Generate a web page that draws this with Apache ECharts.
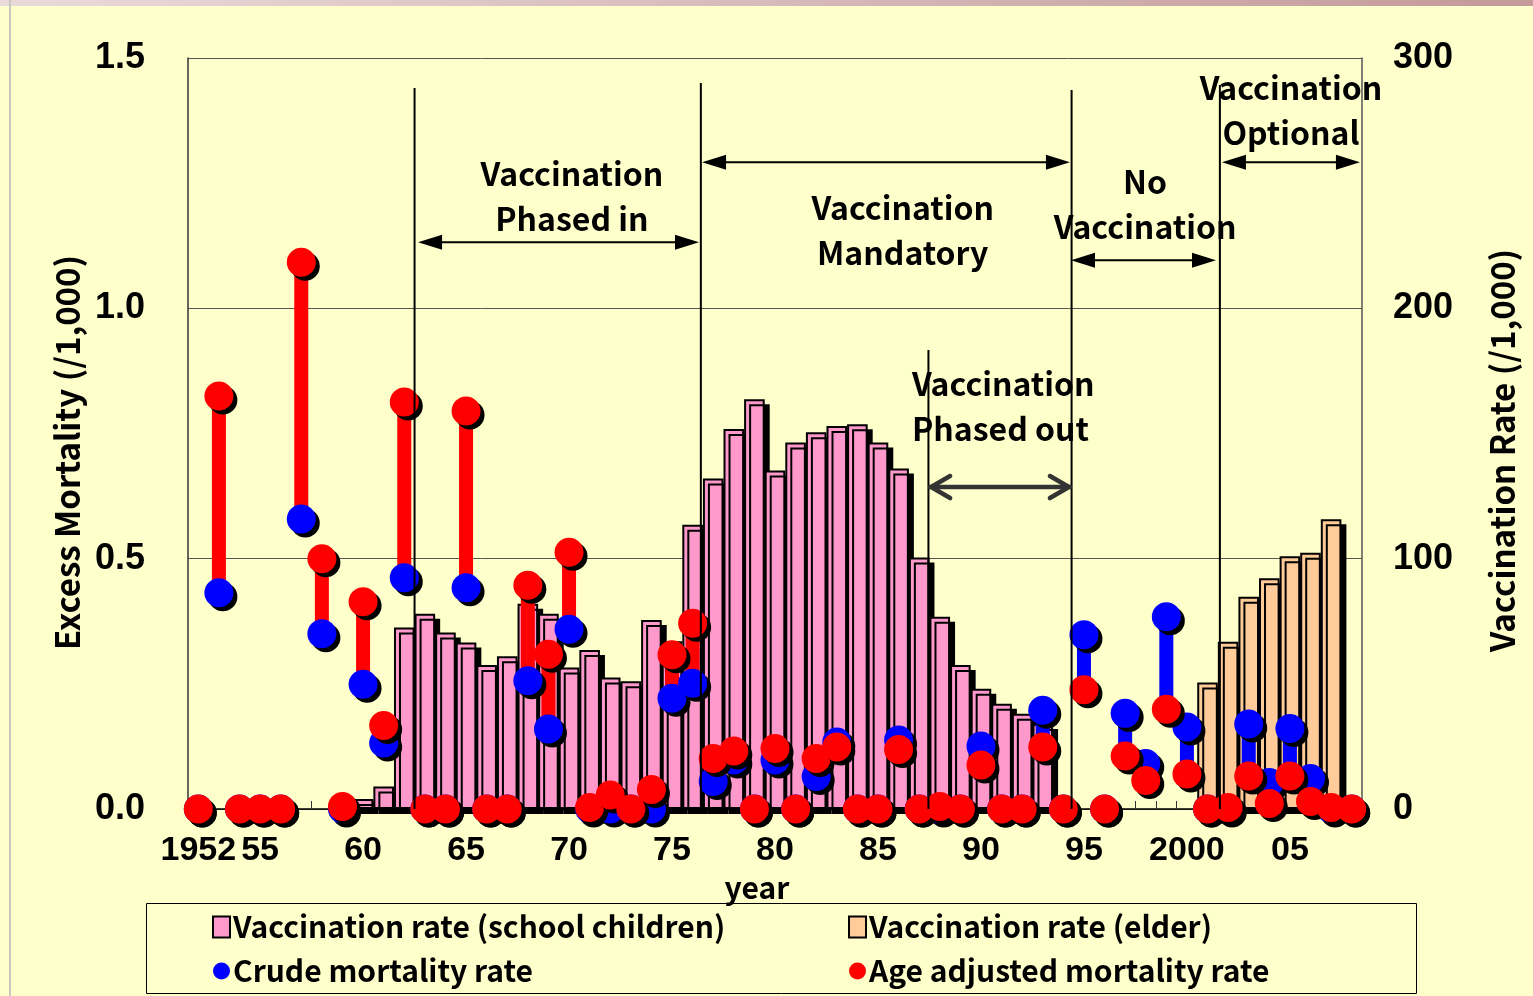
<!DOCTYPE html>
<html>
<head>
<meta charset="utf-8">
<title>Excess mortality and influenza vaccination</title>
<script src="https://cdn.jsdelivr.net/npm/echarts@6.0.0/dist/echarts.min.js"></script>
<style>
    html, body { margin: 0; padding: 0; background: #FFFFCC; overflow: hidden; }
    #chart { width: 1533px; height: 996px; }
</style>
</head>
<body>
<div id="chart"></div>
<script>
// 年份 (x 轴)
var years = ['1952', '1953', '1954', '1955', '1956', '1957', '1958', '1959', '1960', '1961',
    '1962', '1963', '1964', '1965', '1966', '1967', '1968', '1969', '1970', '1971',
    '1972', '1973', '1974', '1975', '1976', '1977', '1978', '1979', '1980', '1981',
    '1982', '1983', '1984', '1985', '1986', '1987', '1988', '1989', '1990', '1991',
    '1992', '1993', '1994', '1995', '1996', '1997', '1998', '1999', '2000', '2001',
    '2002', '2003', '2004', '2005', '2006', '2007', '2008'];

// 显示的刻度标签
var labelYears = ['1952', '1955', '1960', '1965', '1970', '1975', '1980', '1985', '1990', '1995', '2000', '2005'];
var labelTexts = ['1952', '55', '60', '65', '70', '75', '80', '85', '90', '95', '2000', '05'];

// 接种率 (学童), /1,000
var schoolRate = [null, null, null, null, null, null, null, null, 4, 9,
    72.5, 78, 70.5, 66.5, 57.5, 61, 82, 78, 56.5, 63.5,
    52.5, 51, 75.5, 67, 113.5, 132, 151.8, 163.7, 135.2, 146.4,
    150.5, 153, 153.7, 146.4, 136, 100.5, 76.8, 57.5, 48, 42,
    38, 34, null, null, null, null, null, null, null, null,
    null, null, null, null, null, null, null];

// 接种率 (老人), /1,000
var elderRate = [null, null, null, null, null, null, null, null, null, null,
    null, null, null, null, null, null, null, null, null, null,
    null, null, null, null, null, null, null, null, null, null,
    null, null, null, null, null, null, null, null, null, null,
    null, null, null, null, null, null, null, null, null, 50.5,
    66.8, 84.8, 92.2, 101, 102.4, 115.7, null];

// 粗死亡率 (超额), /1,000
var crudeRate = [0, 0.432, 0, 0, 0, 0.579, 0.35, 0, 0.249, 0.132,
    0.462, 0, 0, 0.442, 0, 0, 0.256, 0.16, 0.359, 0,
    0, 0, 0, 0.221, 0.251, 0.055, 0.098, 0, 0.098, 0,
    0.065, 0.134, 0, 0, 0.138, 0, 0, 0, 0.126, 0,
    0, 0.197, 0, 0.348, 0, 0.191, 0.091, 0.384, 0.164, 0,
    0, 0.17, 0.053, 0.161, 0.061, 0, 0];

// 年龄调整死亡率 (超额), /1,000
var adjustedRate = [0, 0.825, 0, 0, 0, 1.092, 0.5, 0.005, 0.414, 0.167,
    0.813, 0, 0, 0.795, 0, 0, 0.447, 0.309, 0.513, 0.003,
    0.028, 0, 0.039, 0.308, 0.371, 0.101, 0.116, 0, 0.121, 0,
    0.101, 0.124, 0, 0, 0.119, 0, 0.005, 0, 0.088, 0,
    0, 0.124, 0, 0.238, 0, 0.106, 0.057, 0.199, 0.07, 0,
    0.003, 0.066, 0.011, 0.066, 0.015, 0.003, 0];

// 注释: 分隔竖线 (年份位置, 顶端)
var dividerX = [1962.5, 1976.4, 1987.45, 1994.4, 2001.6];
var dividerTop = [1.44, 1.45, 0.917, 1.436, 1.446];

// 注释: 双向箭头
var spanFrom = [1962.67, 1976.46, 1994.37, 2001.7];
var spanTo = [1976.31, 1994.32, 2001.41, 2008.4];
var spanY = [1.132, 1.292, 1.096, 1.292];
var phaseOutSpan = [1987.53, 1994.32, 0.643];

// 注释文字
var noteTexts = ['Vaccination\nPhased in', 'Vaccination\nMandatory', 'No\nVaccination',
    'Vaccination\nOptional', 'Vaccination\nPhased out'];
var noteX = [1970.14, 1986.2, 1997.97, 2005.05, 1986.65];
var noteY = [1.224, 1.155, 1.208, 1.396, 0.805];
var noteAlign = ['center', 'center', 'center', 'center', 'left'];

var textFont = '"Noto Sans CJK JP", "Noto Sans", sans-serif';
var numFont = '"Liberation Sans", Arial, sans-serif';

var chart = echarts.init(document.getElementById('chart'));

var shadow = { shadowColor: '#000', shadowBlur: 0, shadowOffsetX: 4, shadowOffsetY: 4 };

option = {
    backgroundColor: '#FFFFCC',
    animation: false,
    grid: { left: 188, right: 171, top: 58, bottom: 187 },
    graphic: [
        // 顶部边条
        {
            type: 'rect', left: 0, top: 0, shape: { width: 1533, height: 6 },
            style: { fill: new echarts.graphic.LinearGradient(0, 0, 1, 0, [
                { offset: 0, color: '#eadada' }, { offset: 1, color: '#c49a9a' }]) }
        },
        { type: 'rect', left: 9, top: 0, shape: { width: 2, height: 996 }, style: { fill: '#c8c8c0' } },
        // 图例边框
        {
            type: 'rect', left: 146, top: 903, z: 0,
            shape: { width: 1270, height: 90 },
            style: { fill: '#FFFFCC', stroke: '#000', lineWidth: 1 }
        }
    ],
    legend: [{
        data: [{ name: 'Vaccination rate (school children)', icon: 'rect' }, { name: 'Crude mortality rate', icon: 'circle' }],
        orient: 'vertical', left: 207, top: 907, itemGap: 14,
        itemWidth: 17, itemHeight: 21, selectedMode: false,
        textStyle: { fontFamily: textFont, fontWeight: 'bold', fontSize: 30, color: '#000', padding: [0, 0, 0, -2] }
    }, {
        data: [{ name: 'Vaccination rate (elder)', icon: 'rect' }, { name: 'Age adjusted mortality rate', icon: 'circle' }],
        orient: 'vertical', left: 843, top: 907, itemGap: 14,
        itemWidth: 17, itemHeight: 21, selectedMode: false,
        textStyle: { fontFamily: textFont, fontWeight: 'bold', fontSize: 30, color: '#000', padding: [0, 0, 0, -2] }
    }],
    xAxis: [{
        type: 'category',
        data: years,
        boundaryGap: true,
        axisLine: { lineStyle: { color: '#000', width: 1.5 } },
        axisTick: { show: true, inside: true, length: 8, lineStyle: { color: '#333' } },
        axisLabel: {
            interval: 0,
            margin: 25,
            color: '#000',
            fontFamily: numFont,
            fontWeight: 'bold',
            fontSize: 34,
            formatter: function (v) {
                var k = labelYears.indexOf(v);
                return k >= 0 ? labelTexts[k] : '';
            }
        },
        name: 'year',
        nameLocation: 'middle',
        nameGap: 59,
        nameTextStyle: { fontFamily: textFont, fontWeight: 'bold', fontSize: 30, color: '#000', padding: [0, 36, 0, 0] }
    }, {
        // 注释用的隐藏数值轴
        type: 'value', min: 1951.5, max: 2008.5, show: false
    }],
    yAxis: [{
        type: 'value', min: 0, max: 1.5, interval: 0.5, position: 'left',
        axisLine: { show: true, lineStyle: { color: '#333', width: 1.5 } },
        axisTick: { show: false },
        splitLine: { lineStyle: { color: '#555', width: 1 } },
        axisLabel: {
            margin: 43, color: '#000', fontFamily: numFont, fontWeight: 'bold', fontSize: 36,
            formatter: function (v) { return v.toFixed(1); }
        },
        name: 'Excess Mortality (/1,000)',
        nameLocation: 'middle', nameRotate: 90, nameGap: 103,
        nameTextStyle: { fontFamily: textFont, fontWeight: 'bold', fontSize: 33, color: '#000', padding: [0, 38, 0, 0] }
    }, {
        type: 'value', min: 0, max: 300, interval: 100, position: 'right',
        axisLine: { show: true, lineStyle: { color: '#555', width: 1.5 } },
        axisTick: { show: false },
        splitLine: { show: false },
        axisLabel: { margin: 31, color: '#000', fontFamily: numFont, fontWeight: 'bold', fontSize: 36 },
        name: 'Vaccination Rate (/1,000)',
        nameLocation: 'middle', nameRotate: 90, nameGap: 124,
        nameTextStyle: { fontFamily: textFont, fontWeight: 'bold', fontSize: 33, color: '#000', padding: [0, 34, 0, 0] }
    }],
    series: [{
        name: 'Vaccination rate (school children)',
        type: 'bar',
        yAxisIndex: 1,
        data: schoolRate,
        barCategoryGap: '0%',
        itemStyle: { color: '#FF99CC', borderColor: '#000', borderWidth: 2,
            shadowColor: '#000', shadowBlur: 0, shadowOffsetX: 5, shadowOffsetY: 5 },
        z: 2
    }, {
        name: 'Vaccination rate (elder)',
        type: 'bar',
        yAxisIndex: 1,
        data: elderRate,
        barGap: '-100%',
        barCategoryGap: '0%',
        itemStyle: { color: '#FFCC99', borderColor: '#000', borderWidth: 2,
            shadowColor: '#000', shadowBlur: 0, shadowOffsetX: 5, shadowOffsetY: 5 },
        z: 2
    }, {
        // 两种死亡率之间的连线
        type: 'custom',
        data: years.map(function (y, i) { return [i, crudeRate[i], adjustedRate[i]]; }),
        encode: { x: 0, y: [1, 2] },
        renderItem: function (params, api) {
            var a = api.coord([api.value(0), api.value(1)]);
            var b = api.coord([api.value(0), api.value(2)]);
            return {
                type: 'line',
                shape: { x1: a[0], y1: a[1], x2: b[0], y2: b[1] },
                style: { stroke: api.value(2) > api.value(1) ? '#FF0000' : '#0000FF', lineWidth: 14 }
            };
        },
        z: 3
    }, {
        name: 'Crude mortality rate',
        type: 'scatter',
        data: crudeRate,
        symbolSize: 29,
        itemStyle: Object.assign({ color: '#0000FF', opacity: 1 }, shadow),
        z: 4
    }, {
        name: 'Age adjusted mortality rate',
        type: 'scatter',
        data: adjustedRate,
        symbolSize: 29,
        itemStyle: Object.assign({ color: '#FF0000', opacity: 1 }, shadow),
        z: 5
    }, {
        // 分隔竖线
        type: 'custom', xAxisIndex: 1, z: 6, silent: true,
        data: dividerX.map(function (x, i) { return [x, dividerTop[i]]; }),
        renderItem: function (params, api) {
            var top = api.coord([api.value(0), api.value(1)]);
            var bottom = api.coord([api.value(0), 0]);
            return {
                type: 'line',
                shape: { x1: top[0], y1: top[1], x2: bottom[0], y2: bottom[1] },
                style: { stroke: '#000', lineWidth: 2 }
            };
        }
    }, {
        // 双向箭头
        type: 'custom', xAxisIndex: 1, z: 6, silent: true,
        data: spanFrom.map(function (x, i) { return [x, spanY[i], spanTo[i]]; }),
        renderItem: function (params, api) {
            var p1 = api.coord([api.value(0), api.value(1)]);
            var p2 = api.coord([api.value(2), api.value(1)]);
            var y = p1[1], L = 24, H = 7.5;
            return {
                type: 'group',
                children: [{
                    type: 'line',
                    shape: { x1: p1[0] + 5, y1: y, x2: p2[0] - 5, y2: y },
                    style: { stroke: '#000', lineWidth: 2 }
                }, {
                    type: 'polygon',
                    shape: { points: [[p1[0], y], [p1[0] + L, y - H], [p1[0] + L, y + H]] },
                    style: { fill: '#000' }
                }, {
                    type: 'polygon',
                    shape: { points: [[p2[0], y], [p2[0] - L, y - H], [p2[0] - L, y + H]] },
                    style: { fill: '#000' }
                }]
            };
        }
    }, {
        // phased out 箭头 (灰色, 开口箭头)
        type: 'custom', xAxisIndex: 1, z: 6, silent: true,
        data: [[phaseOutSpan[0], phaseOutSpan[2], phaseOutSpan[1]]],
        renderItem: function (params, api) {
            var p1 = api.coord([api.value(0), api.value(1)]);
            var p2 = api.coord([api.value(2), api.value(1)]);
            var y = p1[1];
            var st = { stroke: '#333', lineWidth: 4.5, lineCap: 'round', lineJoin: 'round', fill: null };
            return {
                type: 'group',
                children: [{
                    type: 'line', shape: { x1: p1[0], y1: y, x2: p2[0], y2: y }, style: st
                }, {
                    type: 'polyline', shape: { points: [[p1[0] + 20, y - 11], [p1[0] + 1, y], [p1[0] + 20, y + 11]] }, style: st
                }, {
                    type: 'polyline', shape: { points: [[p2[0] - 20, y - 11], [p2[0] - 1, y], [p2[0] - 20, y + 11]] }, style: st
                }]
            };
        }
    }, {
        // 注释文字
        type: 'custom', xAxisIndex: 1, z: 7, silent: true,
        data: noteX.map(function (x, i) { return [x, noteY[i]]; }),
        renderItem: function (params, api) {
            var p = api.coord([api.value(0), api.value(1)]);
            return {
                type: 'text',
                x: p[0], y: p[1],
                style: {
                    text: noteTexts[params.dataIndex],
                    fill: '#000',
                    font: 'bold 32px ' + textFont,
                    align: noteAlign[params.dataIndex],
                    verticalAlign: 'middle',
                    lineHeight: 45
                }
            };
        }
    }]
};

chart.setOption(option);
</script>
</body>
</html>
